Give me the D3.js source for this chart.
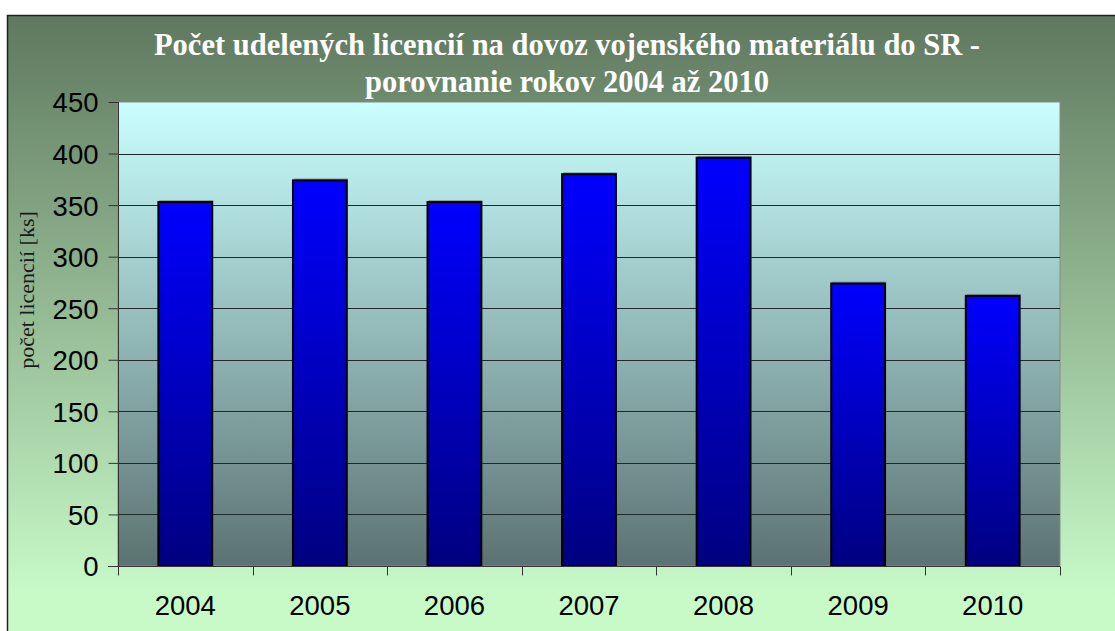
<!DOCTYPE html>
<html>
<head>
<meta charset="utf-8">
<script src="https://cdn.jsdelivr.net/npm/d3@7"></script>
<style>
  body { margin: 0; background: #fff; }
  svg { display: block; }
</style>
</head>
<body>
<div class="container"></div>
<script>
const years = ["2004", "2005", "2006", "2007", "2008", "2009", "2010"];
const licences = [353, 374, 353, 380, 396, 274, 262];
const yTicks = [0, 50, 100, 150, 200, 250, 300, 350, 400, 450];
const titleLines = ["Počet udelených licencií na dovoz vojenského materiálu do SR -", "porovnanie rokov 2004 až 2010"];
const yLabel = "počet licencií [ks]";

const w = 1115;
const h = 631;
const plot = { left: 118, right: 1060, top: 102, bottom: 566 };

const svg = d3.select(".container")
  .append("svg")
  .attr("width", w)
  .attr("height", h);

const defs = svg.append("defs");

const outerGrad = defs.append("linearGradient")
  .attr("id", "outerGrad")
  .attr("x1", 0).attr("y1", 0).attr("x2", 0).attr("y2", 1);
outerGrad.append("stop").attr("offset", "0%").attr("stop-color", "#5f785f");
outerGrad.append("stop").attr("offset", "92%").attr("stop-color", "#c8fac8");
outerGrad.append("stop").attr("offset", "100%").attr("stop-color", "#c8fac8");

const plotGrad = defs.append("linearGradient")
  .attr("id", "plotGrad")
  .attr("x1", 0).attr("y1", 0).attr("x2", 0).attr("y2", 1);
plotGrad.append("stop").attr("offset", "0%").attr("stop-color", "#caffff");
plotGrad.append("stop").attr("offset", "100%").attr("stop-color", "#5c7272");

const barGrad = defs.append("linearGradient")
  .attr("id", "barGrad")
  .attr("x1", 0).attr("y1", 0).attr("x2", 0).attr("y2", 1);
barGrad.append("stop").attr("offset", "0%").attr("stop-color", "#0000ff");
barGrad.append("stop").attr("offset", "100%").attr("stop-color", "#000080");

// chart area (cut off on the right and bottom)
svg.append("rect")
  .attr("x", 7.5)
  .attr("y", 15.5)
  .attr("width", w)
  .attr("height", h)
  .attr("fill", "url(#outerGrad)")
  .attr("stroke", "#222")
  .attr("stroke-width", 1.5);

const xScale = d3.scaleBand()
  .domain(years)
  .range([plot.left, plot.right])
  .paddingInner(0.6)
  .paddingOuter(0.3);

const yScale = d3.scaleLinear()
  .domain([0, 450])
  .range([plot.bottom, plot.top]);

svg.append("rect")
  .attr("x", plot.left)
  .attr("y", plot.top)
  .attr("width", plot.right - plot.left)
  .attr("height", plot.bottom - plot.top)
  .attr("fill", "url(#plotGrad)")
  .attr("stroke", "#8a8a8a")
  .attr("stroke-width", 1);

// gridlines
svg.append("g")
  .selectAll("line")
  .data(yTicks.filter((d) => d > 0 && d < 450))
  .enter()
  .append("line")
  .attr("x1", plot.left)
  .attr("x2", plot.right)
  .attr("y1", (d) => Math.round(yScale(d)) + 0.5)
  .attr("y2", (d) => Math.round(yScale(d)) + 0.5)
  .attr("stroke", "#1e2a2a")
  .attr("stroke-width", 1);

// bar shadows
svg.append("g")
  .selectAll("rect")
  .data(licences)
  .enter()
  .append("rect")
  .attr("x", (d, i) => xScale(years[i]) + 1)
  .attr("y", (d) => yScale(d) - 2)
  .attr("width", xScale.bandwidth())
  .attr("height", (d) => plot.bottom - yScale(d))
  .attr("fill", "#6e8e8e")
  .attr("opacity", 0.7);

svg.append("g")
  .selectAll("rect")
  .data(licences)
  .enter()
  .append("rect")
  .attr("class", "bar")
  .attr("x", (d, i) => xScale(years[i]))
  .attr("y", (d) => yScale(d))
  .attr("width", xScale.bandwidth())
  .attr("height", (d) => plot.bottom - yScale(d))
  .attr("fill", "url(#barGrad)")
  .attr("stroke", "#000")
  .attr("stroke-width", 2);

// y axis
const yAxis = d3.axisLeft(yScale)
  .tickValues(yTicks)
  .tickSize(10)
  .tickPadding(10);
const gy = svg.append("g")
  .attr("transform", "translate(" + (plot.left + 0.5) + ",0)")
  .call(yAxis);
gy.select(".domain").attr("stroke", "#333").attr("d", "M0," + plot.top + "V" + plot.bottom);
gy.selectAll(".tick line").attr("stroke", "#333");
gy.selectAll("text")
  .attr("font-family", "Liberation Sans, Arial, sans-serif")
  .attr("font-size", 27.5)
  .attr("fill", "#000")
  .attr("dy", "0.36em");

// x axis, ticks between categories
const xAxis = d3.axisBottom(xScale)
  .tickSize(0)
  .tickPadding(29);
const gx = svg.append("g")
  .attr("transform", "translate(0," + (plot.bottom + 0.5) + ")")
  .call(xAxis);
gx.select(".domain").attr("stroke", "#333").attr("d", "M" + (plot.left - 10) + ",0H" + plot.right);
gx.selectAll("text")
  .attr("font-family", "Liberation Sans, Arial, sans-serif")
  .attr("font-size", 27.5)
  .attr("fill", "#000");

gx.selectAll(".sep")
  .data(years.concat(["end"]))
  .enter()
  .append("line")
  .attr("class", "sep")
  .attr("x1", (d, i) => Math.round(plot.left + i * (plot.right - plot.left) / years.length) + 0.5)
  .attr("x2", (d, i) => Math.round(plot.left + i * (plot.right - plot.left) / years.length) + 0.5)
  .attr("y1", 0)
  .attr("y2", 9)
  .attr("stroke", "#333");

// title
svg.append("g")
  .selectAll("text")
  .data(titleLines)
  .enter()
  .append("text")
  .attr("x", 567)
  .attr("y", (d, i) => 55 + i * 37)
  .attr("text-anchor", "middle")
  .attr("font-family", "Liberation Serif, Times New Roman, serif")
  .attr("font-weight", "bold")
  .attr("font-size", 30.5)
  .attr("fill", "#fff")
  .text((d) => d);

// y axis title
svg.append("text")
  .attr("transform", "translate(34,290) rotate(-90)")
  .attr("text-anchor", "middle")
  .attr("font-family", "Liberation Serif, Times New Roman, serif")
  .attr("font-size", 22)
  .attr("fill", "#1a1a1a")
  .text(yLabel);
</script>
</body>
</html>
